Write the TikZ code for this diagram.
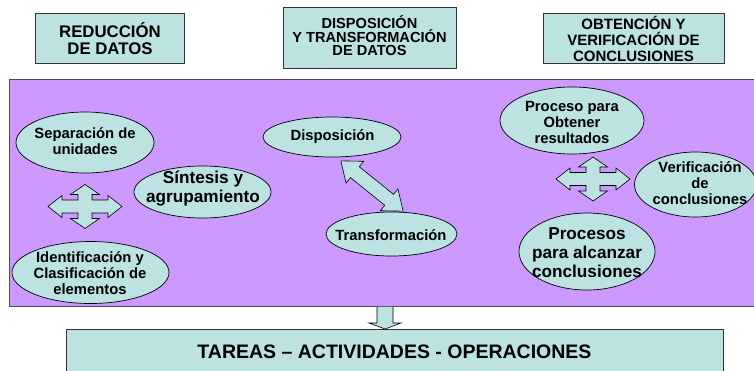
\documentclass[tikz,border=0pt]{standalone}
\usepackage{fontspec}
\setmainfont{Liberation Sans}
\usetikzlibrary{shapes.geometric}
\definecolor{boxc}{RGB}{188,226,226}
\definecolor{panelc}{RGB}{204,153,255}
\tikzset{
  hdr/.style={draw=black!80, line width=1pt, fill=boxc},
  ell/.style={ellipse, draw=black, line width=0.7pt, fill=boxc, inner sep=0pt},
  lbl/.style={align=center, font=\bfseries\fontsize{14.8}{16}\selectfont, inner sep=0pt},
  biglbl/.style={align=center, font=\bfseries\fontsize{17.2}{18.8}\selectfont, inner sep=0pt},
  blockarrow/.style={draw=black, line width=0.6pt, fill=boxc, line join=miter},
  fourway/.pic={\path[blockarrow] (0,-22) -- (14.5,-12) -- (7,-12) -- (7,-6.5) -- (23,-6.5) -- (23,-11) -- (37,0) -- (23,11) -- (23,6.5) -- (7,6.5) -- (7,12) -- (14.5,12) -- (0,22) -- (-14.5,12) -- (-7,12) -- (-7,6.5) -- (-23,6.5) -- (-23,11) -- (-37,0) -- (-23,-11) -- (-23,-6.5) -- (-7,-6.5) -- (-7,-12) -- (-14.5,-12) -- cycle;},
  twoway/.pic={\path[blockarrow] (-40,0) -- (-22,14) -- (-22,7) -- (22,7) -- (22,14) -- (40,0) -- (22,-14) -- (22,-7) -- (-22,-7) -- (-22,-14) -- cycle;}
}
\begin{document}
\begin{tikzpicture}[x=1pt,y=-1pt]
\useasboundingbox (0,0) rectangle (754,370);
\clip (0,0) rectangle (754,370);
\fill[white] (0,0) rectangle (754,370);

% header boxes
\draw[hdr] (35,13) rectangle (184,63);
\node[align=center, inner sep=0pt, font=\bfseries\fontsize{16.8}{16.8}\selectfont] (reduccion) at (110,39) {REDUCCIÓN\\DE DATOS};
\draw[hdr] (283,7) rectangle (456,68);
\node[align=center, inner sep=0pt, font=\bfseries\fontsize{14.6}{13.5}\selectfont] (disposicionhdr) at (369.5,36) {DISPOSICIÓN\\Y TRANSFORMACIÓN\\DE DATOS};
\draw[hdr] (543,13) rectangle (724,63);
\node[align=center, inner sep=0pt, font=\bfseries\fontsize{15}{15.8}\selectfont] (obtencion) at (633.5,39) {OBTENCIÓN Y\\VERIFICACIÓN DE\\CONCLUSIONES};

% purple panel
\node[draw=black!70, line width=0.9pt, fill=panelc, minimum width=751pt, minimum height=227pt, inner sep=0pt, anchor=north west] (panel) at (9,79) {};

% left group
\node[ell, minimum width=138pt, minimum height=61pt] (sepE) at (85,142.5) {};
\node[lbl] (sep) at (85,141.5) {Separación de\\unidades};
\node[ell, minimum width=137pt, minimum height=52pt] (sintE) at (202.5,192) {};
\node[biglbl] (sint) at (203,188.5) {Síntesis y\\agrupamiento};
\node[ell, minimum width=157pt, minimum height=62pt] (identE) at (90.5,272.5) {};
\node[lbl] (ident) at (90,273) {Identificación y\\Clasificación de\\elementos};
\pic at (85,206.5) {fourway};

% middle group
\node[ell, minimum width=138pt, minimum height=40pt] (dispE) at (332,137) {};
\node[lbl] (disp) at (332.5,137) {Disposición};
\node[ell, minimum width=131pt, minimum height=44pt] (transE) at (391.5,234) {};
\node[lbl] (trans) at (391,235) {Transformación};
\pic[rotate=-38.9] at (372,186) {twoway};

% right group
\node[ell, minimum width=144pt, minimum height=67pt] (procE) at (572,120.5) {};
\node[lbl] (proc) at (572,122) {Proceso para\\Obtener\\resultados};
\node[ell, minimum width=122pt, minimum height=65pt] (verifE) at (695.5,184.5) {};
\node[lbl] (verif) at (700,183.5) {Verificación\\de\\conclusiones};
\node[ell, minimum width=136pt, minimum height=77pt] (procsE) at (587,251.5) {};
\node[biglbl] (procs) at (587,252.5) {Procesos\\para alcanzar\\conclusiones};
\pic at (593,179) {fourway};

% bottom box and down arrow
\draw[hdr] (66,329) rectangle (723,385);
\node[inner sep=0pt, font=\bfseries\fontsize{19.5}{20}\selectfont] (tareas) at (394.5,351.5) {TAREAS – ACTIVIDADES - OPERACIONES};
\path[blockarrow] (panel.south -| 377,0) -- (377,323) -- (369,323) -- (385,329) -- (401,323) -- (393,323) -- (panel.south -| 393,0);
\end{tikzpicture}
\end{document}
